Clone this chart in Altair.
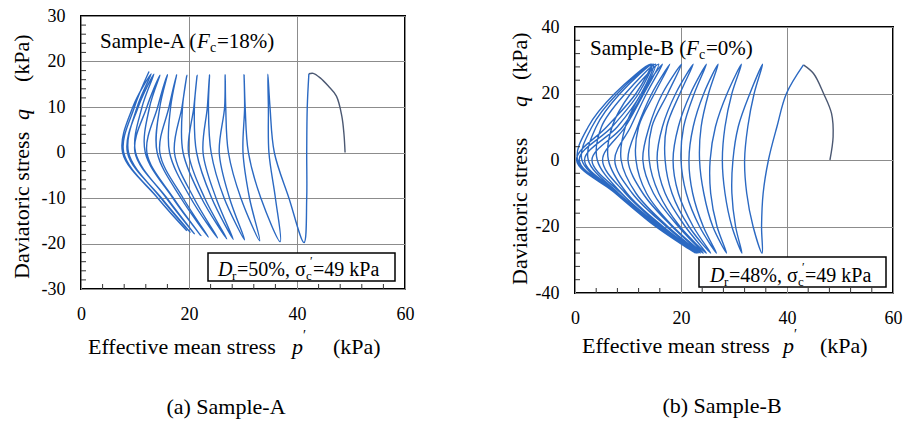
import altair as alt
import pandas as pd

FONT = "Liberation Serif"
LINE = "#2b69c2"
INIT = "#4b5872"

# ---------------- Panel A (Sample-A, Fc=18%) ----------------
A_start_p = [48.9, 48.7, 48.3, 47.3, 45.8, 44.3, 43.0]
A_start_q = [0.0, 4.0, 8.0, 12.4, 14.6, 16.4, 17.4]
A_top_p = [42.2, 34.6, 30.2, 26.7, 23.8, 21.5, 19.6, 17.7, 16.0, 14.6, 13.5, 13.0, 12.6]
A_top_q = [17.3, 17.2, 17.1, 17.1, 17.1, 17.0, 17.0, 17.1, 17.1, 17.0, 17.2, 17.3, 17.8]
A_un_p10 = [41.9, 34.7, 30.3, 26.6, 23.4, 20.9, 18.7, 16.3, 14.2, 12.2, 10.6, 9.6]
A_un_p0 = [41.8, 34.8, 30.0, 25.6, 22.6, 19.9, 17.3, 14.6, 12.2, 10.0, 8.6, 7.7]
A_un_pm10 = [41.8, 36.0, 31.2, 27.5, 25.0, 22.9, 20.9, 18.9, 17.1, 15.9, 14.9, 14.2]
A_bot_p = [41.3, 36.9, 33.1, 30.3, 28.2, 27.0, 25.3, 23.6, 22.2, 21.0, 20.2, 19.6]
A_bot_q = [-19.8, -19.6, -19.4, -19.2, -19.1, -19.0, -18.8, -18.6, -18.3, -17.9, -17.5, -17.2]
A_re_pm10 = [38.5, 33.3, 29.6, 26.5, 24.2, 22.3, 20.3, 18.5, 17.0, 15.8, 14.8, 14.2]
A_re_p0 = [35.8, 31.0, 27.3, 24.1, 21.4, 18.9, 16.4, 14.1, 11.9, 10.1, 8.8, 7.9]
A_re_p10 = [35.0, 30.4, 26.8, 23.6, 21.0, 18.8, 16.6, 14.6, 12.7, 11.3, 10.4, 9.9]

# ---------------- Panel B (Sample-B, Fc=0%) ----------------
B_start_p = [48.1, 48.7, 48.4, 46.9, 45.0]
B_start_q = [0.0, 7.0, 14.0, 20.0, 26.0]
B_top_p = [43.1, 35.4, 31.4, 27.0, 24.8, 22.3, 20.1, 17.9, 16.5, 15.8, 15.2, 14.8, 14.5, 14.3]
B_top_q = [28.6, 28.8, 28.8, 28.8, 28.8, 28.8, 28.8, 28.8, 28.8, 28.8, 28.8, 28.8, 28.8, 28.8]
B_un_p20 = [39.9, 33.0, 28.7, 24.3, 21.8, 19.0, 16.5, 14.5, 13.5, 13.0, 12.8, 12.5, 12.0, 11.5]
B_un_p10 = [38.1, 30.8, 26.5, 22.3, 19.5, 16.5, 14.0, 11.8, 10.5, 9.5, 9.0, 8.0, 7.0, 6.0]
B_un_p0 = [36.5, 29.8, 25.5, 21.5, 18.5, 15.5, 12.8, 10.0, 7.5, 5.2, 3.2, 1.8, 0.8, 0.3]
B_un_pm10 = [35.5, 29.6, 25.6, 22.2, 19.5, 17.0, 14.8, 12.8, 10.8, 9.5, 8.7, 8.2, 7.9, 7.7]
B_un_pm20 = [35.2, 30.3, 26.8, 24.2, 22.3, 20.8, 19.5, 18.3, 17.2, 16.3, 15.8, 15.5, 15.3, 15.2]
B_bot_p = [35.3, 31.5, 28.6, 26.7, 25.6, 24.8, 24.2, 23.7, 23.3, 23.0, 22.9, 22.8, 22.7, 23.0]
B_bot_q = [-28.0, -28.0, -28.0, -28.0, -28.0, -28.0, -28.0, -28.0, -28.0, -28.0, -28.0, -28.0, -28.0, -28.0]
B_re_pm20 = [33.6, 29.6, 26.0, 23.5, 21.5, 19.8, 18.5, 17.5, 16.6, 16.0, 15.6, 15.3, 15.2]
B_re_pm10 = [32.4, 28.3, 24.3, 21.0, 18.3, 15.8, 13.5, 11.5, 9.8, 8.8, 8.2, 7.8, 7.6]
B_re_p0 = [32.0, 27.8, 23.5, 20.0, 17.0, 14.0, 11.5, 8.7, 6.3, 4.2, 2.5, 1.3, 0.5]
B_re_p10 = [32.6, 28.3, 23.8, 20.5, 17.3, 14.5, 12.0, 9.5, 7.0, 5.0, 4.0, 3.2, 2.5]
B_re_p20 = [33.8, 29.6, 25.2, 22.5, 19.8, 17.5, 15.0, 12.5, 10.5, 9.5, 8.5, 8.0, 7.5]

# minor tick values along the frame
X_minor = [4, 8, 12, 16, 24, 28, 32, 36, 44, 48, 52, 56]
A_minor_y = [-28, -26, -24, -22, -18, -16, -14, -12, -8, -6, -4, -2,
             2, 4, 6, 8, 12, 14, 16, 18, 22, 24, 26, 28]
B_minor_y = [-36, -32, -28, -24, -16, -12, -8, -4, 4, 8, 12, 16, 24, 28, 32, 36]


def path_A():
    pts = [(p, q, "init") for p, q in zip(A_start_p, A_start_q)]
    pts.append((A_top_p[0], A_top_q[0], "init"))
    n = len(A_bot_p)
    for i in range(n):
        pts += [(A_top_p[i], A_top_q[i], "main"), (A_un_p10[i], 10, "main"),
                (A_un_p0[i], 0, "main"), (A_un_pm10[i], -10, "main"),
                (A_bot_p[i], A_bot_q[i], "main"), (A_re_pm10[i], -10, "main"),
                (A_re_p0[i], 0, "main"), (A_re_p10[i], 10, "main")]
    pts.append((A_top_p[n], A_top_q[n], "main"))
    df = pd.DataFrame(pts, columns=["p", "q", "seg"])
    df["i"] = range(len(df))
    return df


def path_B():
    pts = [(p, q, "init") for p, q in zip(B_start_p, B_start_q)]
    pts.append((B_top_p[0], B_top_q[0], "init"))
    n = len(B_top_p)
    for i in range(n):
        pts += [(B_top_p[i], B_top_q[i], "main"), (B_un_p20[i], 20, "main"),
                (B_un_p10[i], 10, "main"), (B_un_p0[i], 0, "main"),
                (B_un_pm10[i], -10, "main"), (B_un_pm20[i], -20, "main"),
                (B_bot_p[i], B_bot_q[i], "main")]
        if i < len(B_re_p0):
            pts += [(B_re_pm20[i], -20, "main"), (B_re_pm10[i], -10, "main"),
                    (B_re_p0[i], 0, "main"), (B_re_p10[i], 10, "main"),
                    (B_re_p20[i], 20, "main")]
    df = pd.DataFrame(pts, columns=["p", "q", "seg"])
    df["i"] = range(len(df))
    return df


def label(s, x, y, size=21, style="normal", angle=0, align="left", baseline="alphabetic"):
    kw = dict(text=s, font=FONT, fontSize=size, fontStyle=style, align=align,
              baseline=baseline, color="black")
    if angle:
        kw["angle"] = angle
    return alt.Chart(pd.DataFrame({"k": [0]})).mark_text(**kw).encode(
        x=alt.value(x), y=alt.value(y))


def box(x1, y1, x2, y2):
    return alt.Chart(pd.DataFrame({"k": [0]})).mark_rect(
        fill="white", stroke="black", strokeWidth=1.5).encode(
        x=alt.value(x1), x2=alt.value(x2), y=alt.value(y1), y2=alt.value(y2))


def xenc():
    return alt.X("p:Q", scale=alt.Scale(domain=[0, 60], nice=False, zero=False),
                 axis=alt.Axis(values=[0, 20, 40, 60], title=None, labelExpr="'' + datum.value"))


def yenc(ydom, yvals):
    return alt.Y("q:Q", scale=alt.Scale(domain=ydom, nice=False, zero=False),
                 axis=alt.Axis(values=yvals, title=None, labelExpr="'' + datum.value"))


def lines(df, ydom, yvals):
    return alt.Chart(df).mark_line(interpolate="catmull-rom", strokeWidth=1.4).encode(
        x=xenc(), y=yenc(ydom, yvals), order="i:Q",
        color=alt.Color("seg:N", scale=alt.Scale(domain=["init", "main"], range=[INIT, LINE]),
                        legend=None),
    )


def minor_ticks(ydom, yvals, yminor, h):
    xt = alt.Chart(pd.DataFrame({"p": X_minor})).mark_rule(color="#333", strokeWidth=1).encode(
        x=xenc(), y=alt.value(h - 5), y2=alt.value(h))
    yt = alt.Chart(pd.DataFrame({"q": yminor})).mark_rule(color="#333", strokeWidth=1).encode(
        y=yenc(ydom, yvals), x=alt.value(0), x2=alt.value(5))
    return [xt, yt]


A_dom, A_vals = [-30, 30], [-30, -20, -10, 0, 10, 20, 30]
B_dom, B_vals = [-40, 40], [-40, -20, 0, 20, 40]

# ---------- Panel A layers (positions relative to plot origin) ----------
panelA = alt.layer(
    lines(path_A(), A_dom, A_vals),
    *minor_ticks(A_dom, A_vals, A_minor_y, 273),
    box(127, 237, 314, 265),
    label("Sample-A (", 19, 32),
    label("F", 116, 32, style="italic"),
    label("c", 129, 36, size=14),
    label("=18%)", 136, 32),
    label("D", 137, 260, size=20, style="italic"),
    label("r", 151, 264, size=13),
    label("=50%, ", 156, 260, size=20),
    label("σ", 214, 260, size=20),
    label("c", 225, 264, size=13),
    label("′", 229, 249, size=12),
    label("=49 kPa", 232, 260, size=20),
    label("Daviatoric stress", -59, 263, size=22, angle=270, baseline="middle"),
    label("q", -59, 104, size=22, style="italic", angle=270, baseline="middle"),
    label("(kPa)", -59, 66, size=22, angle=270, baseline="middle"),
    label("Effective mean stress", 7, 338, size=22),
    label("p", 211, 338, size=22, style="italic"),
    label("′", 222, 324, size=14),
    label("(kPa)", 252, 338, size=22),
    label("(a) Sample-A", 145, 398, size=22, align="center"),
).properties(width=324, height=273)

panelB = alt.layer(
    lines(path_B(), B_dom, B_vals),
    *minor_ticks(B_dom, B_vals, B_minor_y, 266),
    box(124, 230, 311, 260),
    label("Sample-B (", 15, 28),
    label("F", 111, 28, style="italic"),
    label("c", 124, 32, size=14),
    label("=0%)", 131, 28),
    label("D", 135, 255, size=20, style="italic"),
    label("r", 149, 259, size=13),
    label("=48%, ", 154, 255, size=20),
    label("σ", 212, 255, size=20),
    label("c", 223, 259, size=13),
    label("′", 227, 244, size=12),
    label("=49 kPa", 230, 255, size=20),
    label("Daviatoric stress", -55, 258, size=22, angle=270, baseline="middle"),
    label("q", -55, 80, size=22, style="italic", angle=270, baseline="middle"),
    label("(kPa)", -55, 53, size=22, angle=270, baseline="middle"),
    label("Effective mean stress", 7, 326, size=22),
    label("p", 208, 326, size=22, style="italic"),
    label("′", 219, 312, size=14),
    label("(kPa)", 245, 326, size=22),
    label("(b) Sample-B", 147, 386, size=22, align="center"),
).properties(width=318, height=266)

spacer = alt.Chart(pd.DataFrame({"k": [0]})).mark_point(opacity=0).encode(
    x=alt.value(0), y=alt.value(0)
).properties(width=1, height=1, view=alt.ViewConfig(strokeWidth=0, stroke="transparent"))

colB = alt.vconcat(spacer, panelB, spacing=-2)

chart = alt.hconcat(panelA, colB, spacing=92).properties(
    padding={"left": 9, "top": 6, "right": 0, "bottom": 0},
    background="white",
).configure_view(
    stroke="black", strokeWidth=2
).configure_axis(
    labelFont=FONT, labelFontSize=18, labelColor="black", labelPadding=16,
    labelFlush=False, tickSize=0, domain=False, grid=True, gridColor="#8c8c8c", gridWidth=1,
)

chart.save("out.html", embed_options={"renderer": "svg", "actions": False})
